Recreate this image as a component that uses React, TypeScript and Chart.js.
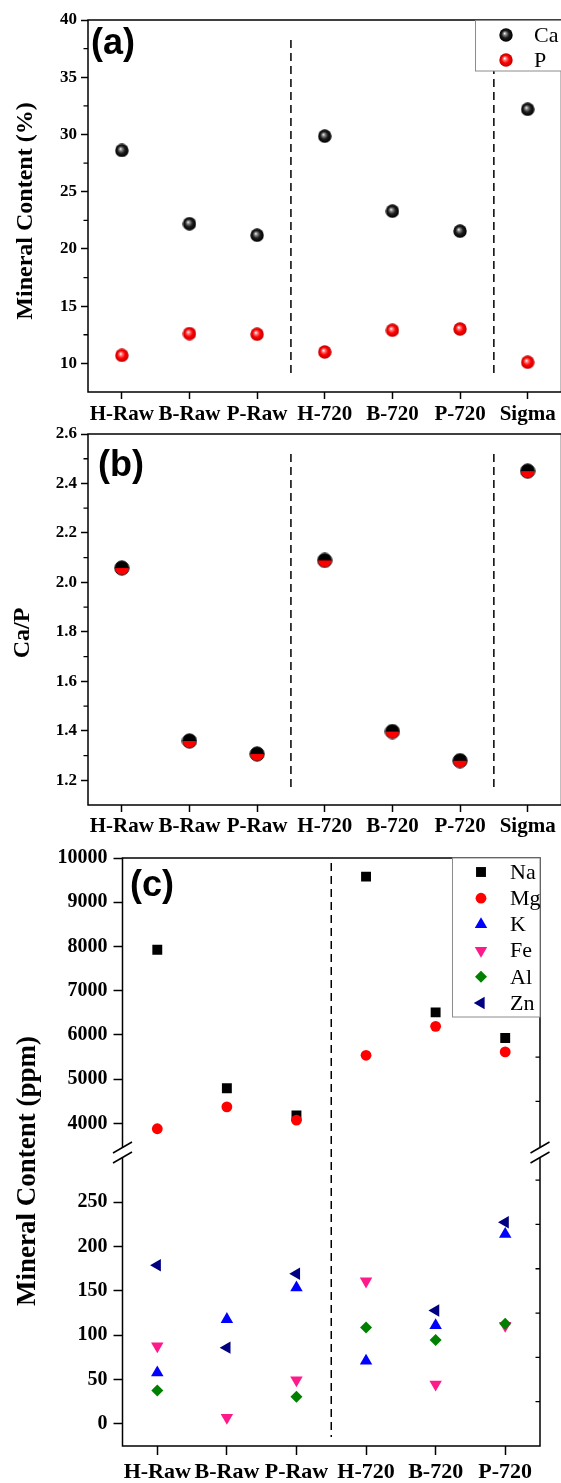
import React, { useEffect, useRef } from 'react';
import { Chart, registerables } from 'chart.js';
import { drawPoint } from 'chart.js/helpers';

Chart.register(...registerables);

// ---------------- data ----------------
const samplesAB = ['H-Raw', 'B-Raw', 'P-Raw', 'H-720', 'B-720', 'P-720', 'Sigma'];
const caPct = [28.6, 22.2, 21.2, 29.85, 23.3, 21.55, 32.2];
const pPct = [10.7, 12.6, 12.55, 11.0, 12.9, 13.0, 10.1];
const caPRatio = [2.058, 1.359, 1.306, 2.089, 1.397, 1.279, 2.45];

const yTicksA = [10, 15, 20, 25, 30, 35, 40];
const yTickLabelsA = ['10', '15', '20', '25', '30', '35', '40'];
const yMinorA = [12.5, 17.5, 22.5, 27.5, 32.5, 37.5];

const yTicksB = [1.2, 1.4, 1.6, 1.8, 2.0, 2.2, 2.4, 2.6];
const yTickLabelsB = ['1.2', '1.4', '1.6', '1.8', '2.0', '2.2', '2.4', '2.6'];
const yMinorB = [1.3, 1.5, 1.7, 1.9, 2.1, 2.3, 2.5];

const samplesC = ['H-Raw', 'B-Raw', 'P-Raw', 'H-720', 'B-720', 'P-720'];
const naPpm = [7925, 4796, 4180, 9579, 6511, 5932];
const mgPpm = [3880, 4376, 4075, 5541, 6195, 5617];
const kPpm = [57.7, 118, 153.7, 71, 111, 214];
const fePpm = [87.7, 7, 49.5, 161, 44.6, 111];
const alPpm = [37.5, null, 30.7, 108.8, 94.5, 113];
const znPpm = [179, 86, 169.5, null, 128, 227.6];

const yTicksCHigh = [4000, 5000, 6000, 7000, 8000, 9000, 10000];
const yTickLabelsCHigh = ['4000', '5000', '6000', '7000', '8000', '9000', '10000'];
const yMinorCHigh = [4500, 5500, 6500, 7500, 8500, 9500];
const yTicksCLow = [0, 50, 100, 150, 200, 250];
const yTickLabelsCLow = ['0', '50', '100', '150', '200', '250'];
const yMinorCLow = [25, 75, 125, 175, 225, 275];

// ---------------- styling ----------------
const W = 600;
const H = 1483;
const SERIF = "'Liberation Serif', 'Times New Roman', serif";
const SANS = "'Liberation Sans', Arial, sans-serif";

function makeSphere(kind: 'black' | 'red', d = 14) {
  const c = document.createElement('canvas');
  c.width = d;
  c.height = d;
  const g = c.getContext('2d')!;
  const r = d / 2 - 0.3;
  const grad = g.createRadialGradient(d * 0.4, d * 0.38, 0.2, d / 2, d / 2, r);
  if (kind === 'black') {
    grad.addColorStop(0, '#f4f4f4');
    grad.addColorStop(0.2, '#8a8a8a');
    grad.addColorStop(0.55, '#1c1c1c');
    grad.addColorStop(1, '#000000');
  } else {
    grad.addColorStop(0, '#ffffff');
    grad.addColorStop(0.22, '#ff7a7a');
    grad.addColorStop(0.55, '#ff0000');
    grad.addColorStop(1, '#c00000');
  }
  g.fillStyle = grad;
  g.beginPath();
  g.arc(d / 2, d / 2, r, 0, Math.PI * 2);
  g.fill();
  return c;
}

function makeHalf(d = 16) {
  const c = document.createElement('canvas');
  c.width = d;
  c.height = d;
  const g = c.getContext('2d')!;
  const r = d / 2 - 0.8;
  g.fillStyle = '#000';
  g.beginPath();
  g.arc(d / 2, d / 2, r, Math.PI, Math.PI * 2);
  g.closePath();
  g.fill();
  g.fillStyle = '#ff0000';
  g.beginPath();
  g.arc(d / 2, d / 2, r, 0, Math.PI);
  g.closePath();
  g.fill();
  g.strokeStyle = '#222';
  g.lineWidth = 1;
  g.beginPath();
  g.arc(d / 2, d / 2, r, 0, Math.PI * 2);
  g.stroke();
  return c;
}

const decorPlugin = {
  id: 'decor',
  afterDatasetsDraw(chart: any, _args: any, o: any) {
    if (!o || !o.on) return;
    const { ctx, chartArea: ca } = chart;
    const xs = chart.scales.x;
    const ys = chart.scales.y;
    ctx.save();
    ctx.strokeStyle = '#000';
    ctx.fillStyle = '#000';
    ctx.lineWidth = 1.5;
    // frame
    const sTop = o.sideTop ?? ca.top;
    const sBot = o.sideBottom ?? ca.bottom;
    ctx.beginPath();
    ctx.moveTo(ca.left, sTop);
    ctx.lineTo(ca.left, sBot);
    ctx.moveTo(ca.right, sTop);
    ctx.lineTo(ca.right, sBot);
    if (o.topLine) {
      ctx.moveTo(ca.left - 0.75, ca.top);
      ctx.lineTo(ca.right + 0.75, ca.top);
    }
    if (o.bottomLine) {
      ctx.moveTo(ca.left - 0.75, ca.bottom);
      ctx.lineTo(ca.right + 0.75, ca.bottom);
    }
    ctx.stroke();
    // minor ticks
    ctx.lineWidth = 1.3;
    ctx.beginPath();
    for (const v of o.minorLeft || []) {
      const py = ys.getPixelForValue(v);
      ctx.moveTo(ca.left - o.minorLen, py);
      ctx.lineTo(ca.left, py);
    }
    for (const v of o.minorRightIn || []) {
      const py = ys.getPixelForValue(v);
      ctx.moveTo(ca.right - o.minorLen, py);
      ctx.lineTo(ca.right, py);
    }
    ctx.stroke();
    // dashed dividers
    ctx.lineWidth = 1.5;
    ctx.setLineDash([8, 5]);
    for (const d of o.dividers || []) {
      const px = xs.getPixelForValue(d.at);
      ctx.beginPath();
      ctx.moveTo(px, d.y0);
      ctx.lineTo(px, d.y1);
      ctx.stroke();
    }
    ctx.setLineDash([]);
    // axis breaks
    for (const b of o.breaks || []) {
      for (const bx of [ca.left, ca.right]) {
        ctx.beginPath();
        ctx.moveTo(bx - 9.5, b + 5.5);
        ctx.lineTo(bx + 9.5, b - 5.5);
        ctx.stroke();
      }
    }
    // panel letter
    if (o.letter) {
      ctx.font = `bold 36px ${SANS}`;
      ctx.textAlign = 'left';
      ctx.textBaseline = 'alphabetic';
      ctx.fillText(o.letter.text, o.letter.x, o.letter.y);
    }
    // y title
    if (o.yTitle) {
      const t = o.yTitle;
      ctx.save();
      ctx.translate(t.x, t.y);
      ctx.rotate(-Math.PI / 2);
      ctx.font = `bold ${t.size}px ${SERIF}`;
      ctx.textAlign = 'center';
      ctx.textBaseline = 'middle';
      ctx.fillText(t.text, 0, 0);
      ctx.restore();
    }
    // legend
    if (o.legend) {
      const L = o.legend;
      ctx.fillStyle = '#fff';
      ctx.fillRect(L.x0, L.y0, L.x1 - L.x0, L.y1 - L.y0);
      ctx.strokeStyle = '#8c8c8c';
      ctx.lineWidth = 1;
      ctx.strokeRect(L.x0, L.y0, L.x1 - L.x0, L.y1 - L.y0);
      chart.data.datasets.forEach((ds: any, i: number) => {
        const y = L.rowY0 + i * L.rowStep;
        ctx.fillStyle = ds.pointBackgroundColor || '#000';
        ctx.strokeStyle = ds.pointBackgroundColor || '#000';
        drawPoint(
          ctx,
          { pointStyle: ds.pointStyle, rotation: ds.pointRotation || 0, radius: ds.pointRadius, borderWidth: 0 } as any,
          L.markerX,
          y
        );
        ctx.fillStyle = '#000';
        ctx.font = `${L.fontSize}px ${SERIF}`;
        ctx.textAlign = 'left';
        ctx.textBaseline = 'middle';
        ctx.fillText(ds.label, L.textX, y + 1);
      });
    }
    ctx.restore();
  },
};
Chart.register(decorPlugin as any);

interface PanelOpts {
  labels: string[];
  datasets: any[];
  padding: { left: number; top: number; right: number; bottom: number };
  yWidth: number;
  xHeight: number;
  xDisplay: boolean;
  yMin: number;
  yMax: number;
  yTicks: number[];
  yTickLabels: string[];
  yFontSize: number;
  yTickLen: number;
  yTickPad: number;
  xFontSize: number;
  xTickLen: number;
  xTickPad: number;
  decor: any;
}

function makeConfig(p: PanelOpts): any {
  return {
    type: 'line',
    data: { labels: p.labels, datasets: p.datasets },
    options: {
      responsive: false,
      animation: false,
      devicePixelRatio: 1,
      events: [],
      layout: { padding: p.padding },
      plugins: {
        legend: { display: false },
        tooltip: { enabled: false },
        decor: { on: true, ...p.decor },
      },
      scales: {
        x: {
          type: 'category',
          offset: true,
          display: p.xDisplay,
          grid: {
            offset: false,
            drawOnChartArea: false,
            drawTicks: true,
            tickLength: p.xTickLen,
            tickWidth: 1.5,
            tickColor: '#000',
          },
          border: { display: false },
          ticks: {
            color: '#000',
            font: { family: SERIF, weight: 'bold', size: p.xFontSize },
            padding: p.xTickPad,
            maxRotation: 0,
            minRotation: 0,
            autoSkip: false,
          },
          afterFit: (s: any) => {
            s.height = p.xHeight;
          },
        },
        y: {
          type: 'linear',
          min: p.yMin,
          max: p.yMax,
          afterBuildTicks: (s: any) => {
            s.ticks = p.yTicks.map((v) => ({ value: v }));
          },
          grid: {
            drawOnChartArea: false,
            drawTicks: true,
            tickLength: p.yTickLen,
            tickWidth: 1.5,
            tickColor: '#000',
          },
          border: { display: false },
          ticks: {
            color: '#000',
            font: { family: SERIF, weight: 'bold', size: p.yFontSize },
            padding: p.yTickPad,
            callback: (_v: any, i: number) => p.yTickLabels[i],
          },
          afterFit: (s: any) => {
            s.width = p.yWidth;
          },
        },
      },
    },
  };
}

// later series are drawn on top (lower `order` is drawn last in Chart.js)
function cDatasets() {
  const base = { showLine: false, pointBorderWidth: 0 };
  return [
    { ...base, order: 0, label: 'Na', data: naPpm, pointStyle: 'rect', pointRadius: 7, pointBackgroundColor: '#000000', pointBorderColor: '#000000' },
    { ...base, order: -1, label: 'Mg', data: mgPpm, pointStyle: 'circle', pointRadius: 5.4, pointBackgroundColor: '#ff0000', pointBorderColor: '#ff0000' },
    { ...base, order: -2, label: 'K', data: kPpm, pointStyle: 'triangle', pointRadius: 7.2, pointBackgroundColor: '#0000ff', pointBorderColor: '#0000ff' },
    { ...base, order: -3, label: 'Fe', data: fePpm, pointStyle: 'triangle', pointRotation: 180, pointRadius: 7.2, pointBackgroundColor: '#ff1a8c', pointBorderColor: '#ff1a8c' },
    { ...base, order: -4, label: 'Al', data: alPpm, pointStyle: 'rectRot', pointRadius: 6, pointBackgroundColor: '#008000', pointBorderColor: '#008000' },
    { ...base, order: -5, label: 'Zn', data: znPpm, pointStyle: 'triangle', pointRotation: -90, pointRadius: 7.2, pointBackgroundColor: '#000080', pointBorderColor: '#000080' },
  ];
}

export default function App() {
  const refA = useRef<HTMLCanvasElement>(null);
  const refB = useRef<HTMLCanvasElement>(null);
  const refC1 = useRef<HTMLCanvasElement>(null);
  const refC2 = useRef<HTMLCanvasElement>(null);

  useEffect(() => {
    const blackSphere = makeSphere('black');
    const redSphere = makeSphere('red');
    const half = makeHalf();

    const chartA = new Chart(
      refA.current!,
      makeConfig({
        labels: samplesAB,
        datasets: [
          { order: 0, label: 'Ca', data: caPct, showLine: false, pointStyle: blackSphere, pointRadius: 7, pointBackgroundColor: '#000' },
          { order: -1, label: 'P', data: pPct, showLine: false, pointStyle: redSphere, pointRadius: 7, pointBackgroundColor: '#f00' },
        ],
        padding: { left: 0, top: 20, right: W - 561.5, bottom: H - 392 - 40 },
        yWidth: 88,
        xHeight: 40,
        xDisplay: true,
        yMin: 7.5,
        yMax: 40,
        yTicks: yTicksA,
        yTickLabels: yTickLabelsA,
        yFontSize: 17,
        yTickLen: 7,
        yTickPad: 4,
        xFontSize: 21,
        xTickLen: 7,
        xTickPad: 3,
        decor: {
          topLine: true,
          bottomLine: true,
          minorLeft: yMinorA,
          minorLen: 4.5,
          dividers: [
            { at: 2.5, y0: 40, y1: 378 },
            { at: 5.5, y0: 40, y1: 378 },
          ],
          letter: { text: '(a)', x: 91, y: 54 },
          yTitle: { text: 'Mineral Content (%)', x: 26, y: 211, size: 24 },
          legend: { x0: 475.5, y0: 20.5, x1: 640, y1: 71, markerX: 506, textX: 534, rowY0: 35, rowStep: 25, fontSize: 22 },
        },
      })
    );

    const chartB = new Chart(
      refB.current!,
      makeConfig({
        labels: samplesAB,
        datasets: [{ label: 'Ca/P', data: caPRatio, showLine: false, pointStyle: half, pointRadius: 8, pointBackgroundColor: '#000' }],
        padding: { left: 0, top: 434, right: W - 561.5, bottom: H - 805 - 40 },
        yWidth: 88,
        xHeight: 40,
        xDisplay: true,
        yMin: 1.1,
        yMax: 2.6,
        yTicks: yTicksB,
        yTickLabels: yTickLabelsB,
        yFontSize: 17,
        yTickLen: 7,
        yTickPad: 4,
        xFontSize: 21,
        xTickLen: 7,
        xTickPad: 2,
        decor: {
          topLine: true,
          bottomLine: true,
          minorLeft: yMinorB,
          minorLen: 4.5,
          dividers: [
            { at: 2.5, y0: 454, y1: 790 },
            { at: 5.5, y0: 454, y1: 790 },
          ],
          letter: { text: '(b)', x: 98, y: 476 },
          yTitle: { text: 'Ca/P', x: 23, y: 633, size: 24 },
        },
      })
    );

    const chartC1 = new Chart(
      refC1.current!,
      makeConfig({
        labels: samplesC,
        datasets: cDatasets(),
        padding: { left: 0, top: 858, right: W - 540, bottom: H - 1150 },
        yWidth: 122.5,
        xHeight: 0,
        xDisplay: false,
        yMin: 3400,
        yMax: 10000,
        yTicks: yTicksCHigh,
        yTickLabels: yTickLabelsCHigh,
        yFontSize: 20,
        yTickLen: 9,
        yTickPad: 6,
        xFontSize: 22,
        xTickLen: 9,
        xTickPad: 4,
        decor: {
          topLine: true,
          bottomLine: false,
          sideBottom: 1147.5,
          minorRightIn: yMinorCHigh,
          minorLen: 4.5,
          letter: { text: '(c)', x: 130, y: 896 },
          yTitle: { text: 'Mineral Content (ppm)', x: 28, y: 1171, size: 27 },
          legend: { x0: 452.5, y0: 858, x1: 540, y1: 1017, markerX: 481, textX: 510, rowY0: 872, rowStep: 26.2, fontSize: 22 },
        },
      })
    );

    const chartC2 = new Chart(
      refC2.current!,
      makeConfig({
        labels: samplesC,
        datasets: cDatasets(),
        padding: { left: 0, top: 1158, right: W - 540, bottom: H - 1446 - 37 },
        yWidth: 122.5,
        xHeight: 37,
        xDisplay: true,
        yMin: -25,
        yMax: 300,
        yTicks: yTicksCLow,
        yTickLabels: yTickLabelsCLow,
        yFontSize: 20,
        yTickLen: 9,
        yTickPad: 6,
        xFontSize: 22,
        xTickLen: 9,
        xTickPad: 4,
        decor: {
          topLine: false,
          bottomLine: true,
          sideTop: 1157.5,
          minorRightIn: yMinorCLow,
          minorLen: 4.5,
          dividers: [{ at: 2.5, y0: 863, y1: 1437 }],
          breaks: [1147.5, 1157.5],
        },
      })
    );

    return () => {
      chartA.destroy();
      chartB.destroy();
      chartC1.destroy();
      chartC2.destroy();
    };
  }, []);

  const cv: React.CSSProperties = { position: 'absolute', left: 0, top: 0, width: W, height: H };
  return (
    <div style={{ position: 'absolute', left: 0, top: 0, width: 561, height: 1483, overflow: 'hidden', background: '#fff' }}>
      <canvas ref={refA} width={W} height={H} style={cv} />
      <canvas ref={refB} width={W} height={H} style={cv} />
      <canvas ref={refC1} width={W} height={H} style={cv} />
      <canvas ref={refC2} width={W} height={H} style={cv} />
    </div>
  );
}
